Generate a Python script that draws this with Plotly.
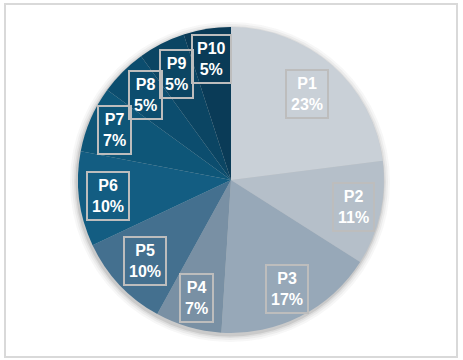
import math
import plotly.graph_objects as go

labels = ["P1", "P2", "P3", "P4", "P5", "P6", "P7", "P8", "P9", "P10"]
values = [23, 11, 17, 7, 10, 10, 7, 5, 5, 5]
colors = ["#c9d0d7", "#b5bfc9", "#97a8b8", "#7990a4", "#44708f",
          "#135d82", "#0e5678", "#0c4d6e", "#0b4563", "#0a3b57"]
label_frac = [0.75, 0.82, 0.80, 0.80, 0.77, 0.81, 0.83, 0.79, 0.78, 0.80]

W, H = 463, 360
cx, cy, R = 231, 180, 153

fig = go.Figure()

# soft shadow behind pie
for grow, op in [(7, 0.04), (5, 0.06), (3, 0.08), (1.5, 0.12)]:
    r = R + grow
    fig.add_shape(type="circle", xref="paper", yref="paper", layer="below",
                  x0=(cx - r - 1) / W, x1=(cx + r - 1) / W,
                  y0=(H - (cy + r + 2)) / H, y1=(H - (cy - r + 2)) / H,
                  fillcolor=f"rgba(60,60,60,{op})", line=dict(width=0))

fig.add_trace(go.Pie(
    labels=labels, values=values, sort=False, direction="clockwise",
    rotation=0, textinfo="none", hoverinfo="none",
    marker=dict(colors=colors, line=dict(width=0)),
    domain=dict(x=[(cx - R) / W, (cx + R) / W], y=[(H - cy - R) / H, (H - cy + R) / H]),
    showlegend=False,
))

total = sum(values)
cum = 0
for lab, v, f in zip(labels, values, label_frac):
    mid = (cum + v / 2) / total * 2 * math.pi
    cum += v
    px = cx + R * f * math.sin(mid)
    py = cy - R * f * math.cos(mid)
    pct = round(v / total * 100)
    fig.add_annotation(
        x=px / W, y=(H - py) / H, xref="paper", yref="paper",
        xanchor="center", yanchor="middle",
        text=f"<b>{lab}</b><br><b>{pct}%</b>", showarrow=False,
        font=dict(family="Liberation Sans, Arial", size=16, color="white"),
        bordercolor="#bdbdbd", borderwidth=2, borderpad=4,
        align="center",
    )

# outer frame
fig.add_shape(type="rect", xref="paper", yref="paper",
              x0=5 / W, x1=457 / W, y0=(H - 357) / H, y1=(H - 4) / H,
              line=dict(color="#d9d9d9", width=2), fillcolor="rgba(0,0,0,0)")

fig.update_layout(width=W, height=H, margin=dict(l=0, r=0, t=0, b=0),
                  paper_bgcolor="white", plot_bgcolor="white")
fig.write_html("out.html", config={"displayModeBar": False},
               post_script="document.body.style.margin='0';")
